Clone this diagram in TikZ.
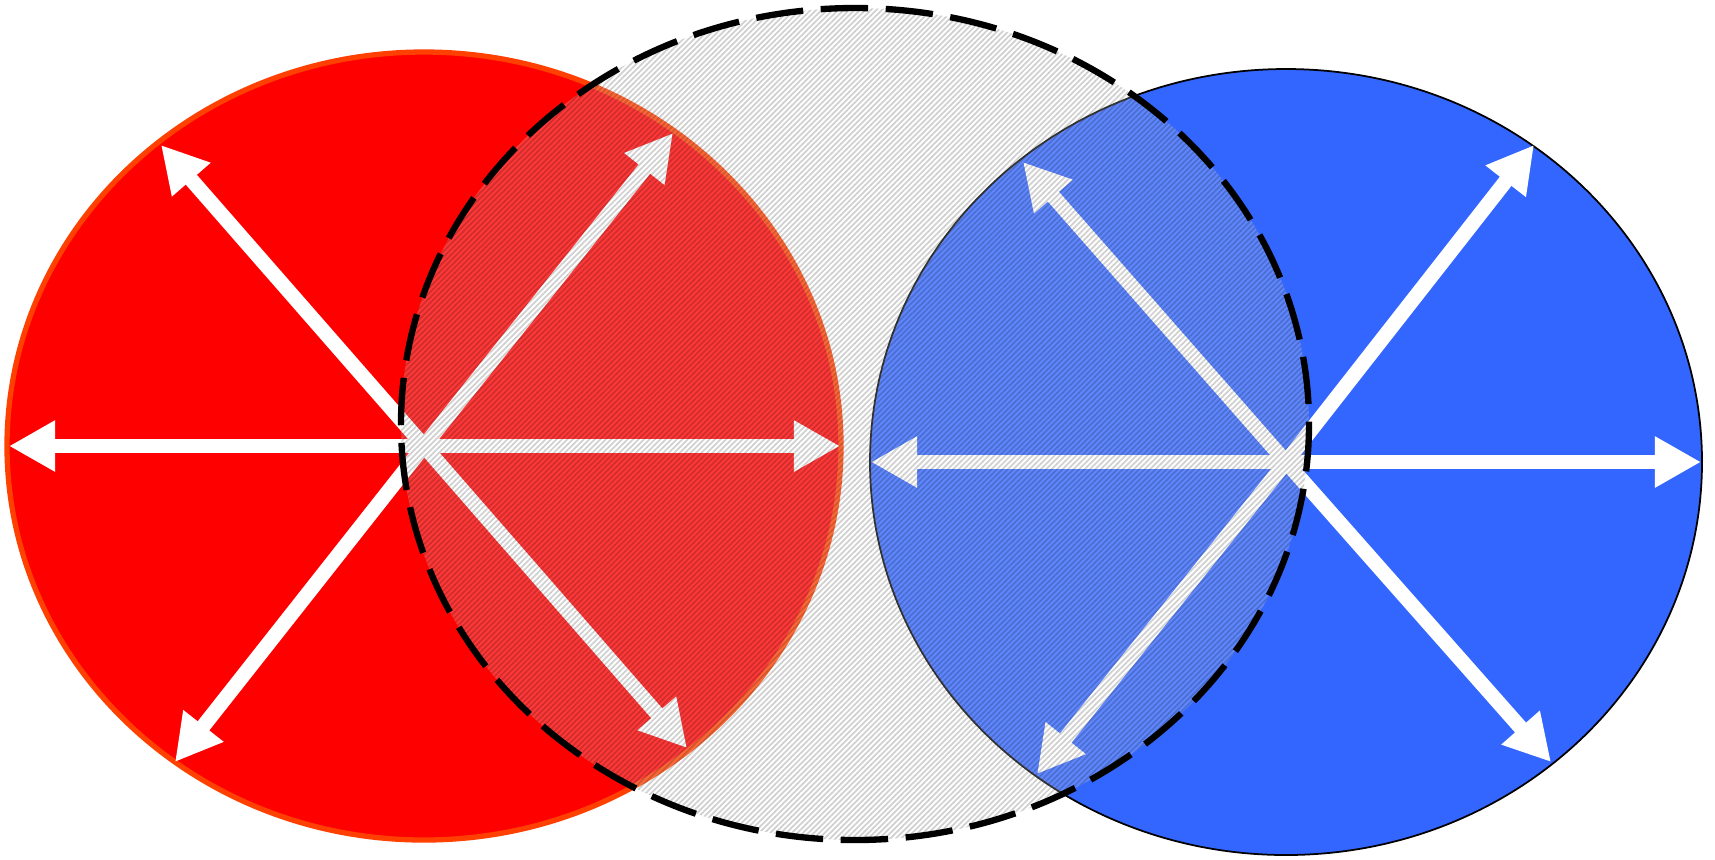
\documentclass[tikz,border=0pt]{standalone}
\usepackage{tikz}
\usetikzlibrary{arrows.meta, patterns.meta}
\definecolor{discred}{RGB}{255,0,0}
\definecolor{rimred}{RGB}{255,64,0}
\definecolor{discblue}{RGB}{51,102,255}

\begin{document}
\begin{tikzpicture}[x=0.01cm, y=-0.01cm,
    ray/.style={draw=white, line width=4.2pt, -{Triangle[length=0.46cm, width=0.48cm]}},
    rim/.style={line width=1.8pt, dash pattern=on 13.5pt off 5pt}]
                    \useasboundingbox (0,0) rectangle (1715,859);
                    % the two discs
                    \fill[discred, draw=rimred, line width=1.5pt] (424,446) ellipse (417 and 394);
                    \fill[discblue, draw=black, line width=0.5pt] (1286,462) ellipse (416 and 393);
                    \coordinate (rc) at (424,446);
                    \coordinate (bc) at (1286,462);
                    % ends of the rays
                    \coordinate (rW) at (9,446);
                    \coordinate (rE) at (840,446);
                    \coordinate (rNW) at (161,145);
                    \coordinate (rNE) at (673,133);
                    \coordinate (rSW) at (175,762);
                    \coordinate (rSE) at (687,748);
                    \coordinate (bW) at (871,462);
                    \coordinate (bE) at (1701,462);
                    \coordinate (bNW) at (1023,162);
                    \coordinate (bNE) at (1534,145);
                    \coordinate (bSW) at (1037,774);
                    \coordinate (bSE) at (1551,762);
                    \foreach \d in {W, E, NW, NE, SW, SE} {
                        \draw[ray] (rc) -- (r\d);
                        \draw[ray] (bc) -- (b\d);
                    }
                    % the hatched disc on top
                    \fill[white, fill opacity=0.22] (855,424) ellipse (454 and 416);
                    \begin{scope}[blend mode=multiply]
                        \fill[pattern={Lines[angle=45, distance=1.1pt, line width=0.5pt]},
                            pattern color=gray!35] (855,424) ellipse (454 and 416);
                    \end{scope}
                    \draw[rim] (855,424) ellipse (454 and 416);
                \end{tikzpicture}
\end{document}
